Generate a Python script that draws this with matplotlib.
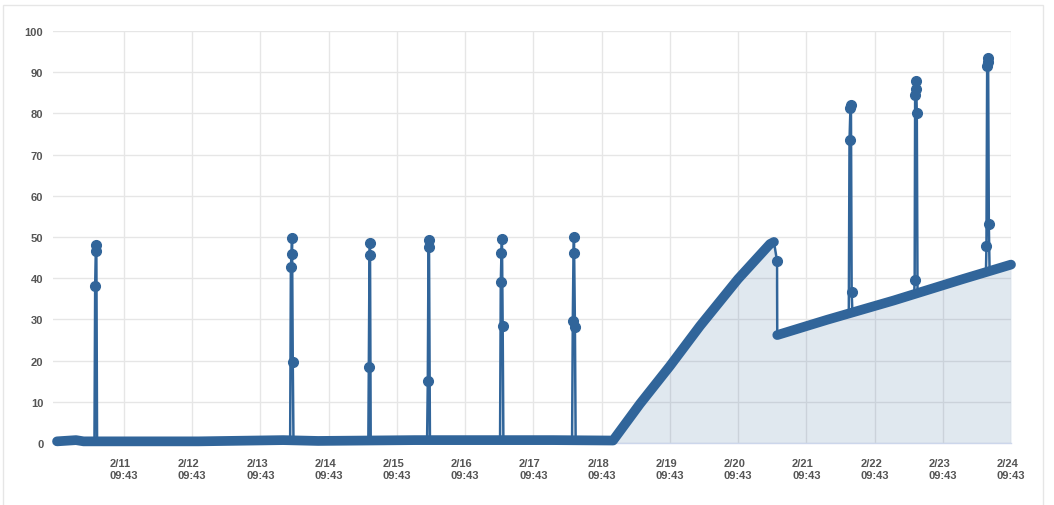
import matplotlib
matplotlib.use("Agg")
import matplotlib.pyplot as plt
from matplotlib.patches import Rectangle
import pandas as pd

YEAR = "2016-"
LINE = "#31659a"

# slow trend (drawn as the thick band)
trend_a_times = ["02-10 10:10", "02-10 16:50", "02-10 19:30", "02-11 12:00", "02-12 12:00",
                 "02-13 17:40", "02-14 06:00", "02-15 16:00", "02-16 15:00", "02-17 16:40",
                 "02-18 13:44", "02-18 23:13", "02-19 09:46", "02-19 20:19", "02-20 09:42",
                 "02-20 20:57", "02-20 22:20"]
trend_a_values = [0.4, 0.7, 0.4, 0.4, 0.4, 0.7, 0.5, 0.7, 0.7, 0.7, 0.6,
                  9.5, 18.7, 28.4, 39.8, 48.3, 48.8]

trend_b_times = ["02-20 23:30", "02-21 17:00", "02-22 16:30", "02-23 16:50", "02-24 09:43"]
trend_b_values = [26.2, 29.9, 34.6, 39.8, 43.3]

# short excursions (thin lines with dots)
drop_times = ["02-20 22:20", "02-20 23:25", "02-20 23:30"]
drop_values = [48.8, 44.2, 26.2]

spike_times = [
    ["02-10 23:20", "02-10 23:35", "02-10 23:50", "02-11 00:00", "02-11 00:15"],
    ["02-13 20:10", "02-13 20:25", "02-13 20:40", "02-13 20:50", "02-13 21:05", "02-13 21:20"],
    ["02-14 23:40", "02-14 23:50", "02-15 00:05", "02-15 00:15", "02-15 00:30"],
    ["02-15 20:20", "02-15 20:35", "02-15 20:50", "02-15 21:00", "02-15 21:20"],
    ["02-16 22:00", "02-16 22:15", "02-16 22:30", "02-16 22:40", "02-16 22:55", "02-16 23:10"],
    ["02-17 23:20", "02-17 23:35", "02-17 23:50", "02-18 00:00", "02-18 00:20", "02-18 00:35"],
    ["02-22 00:40", "02-22 00:55", "02-22 01:15", "02-22 01:25", "02-22 01:40", "02-22 01:55"],
    ["02-22 23:40", "02-22 23:50", "02-23 00:00", "02-23 00:10", "02-23 00:20", "02-23 00:35", "02-23 00:50"],
    ["02-24 00:55", "02-24 01:05", "02-24 01:20", "02-24 01:30", "02-24 01:40", "02-24 01:55", "02-24 02:10"],
]
spike_values = [
    [0.5, 38.1, 48.0, 46.6, 0.5],
    [0.6, 42.7, 45.9, 49.8, 19.7, 0.6],
    [0.6, 18.4, 45.6, 48.5, 0.6],
    [0.6, 15.1, 47.6, 49.3, 0.6],
    [0.6, 39.0, 46.2, 49.5, 28.3, 0.6],
    [0.6, 29.6, 46.1, 50.0, 28.1, 0.6],
    [31.7, 73.5, 81.4, 82.0, 36.6, 32.0],
    [36.0, 39.6, 84.5, 86.0, 87.9, 80.1, 37.0],
    [42.0, 47.8, 91.5, 92.5, 93.4, 53.2, 42.5],
]

tick_dates = ["02-11", "02-12", "02-13", "02-14", "02-15", "02-16", "02-17",
              "02-18", "02-19", "02-20", "02-21", "02-22", "02-23", "02-24"]
tick_time = "09:43"


def to_dt(lst):
    return pd.to_datetime([YEAR + s for s in lst])


fig = plt.figure(figsize=(10.54, 5.06), dpi=100)
ax = fig.add_axes([53 / 1054, 62 / 506, 958 / 1054, 412 / 506])

ta, tb = to_dt(trend_a_times), to_dt(trend_b_times)
all_t = list(ta) + list(tb)
all_v = trend_a_values + trend_b_values
ax.fill_between(all_t, all_v, 0, color="#336699", alpha=0.15, lw=0, zorder=1)

for ts, vs in zip(spike_times + [drop_times], spike_values + [drop_values]):
    t = to_dt(ts)
    ax.plot(t, vs, color=LINE, lw=1.8, zorder=3)
    ax.plot(t[1:-1], vs[1:-1], "o", color=LINE, ms=7, zorder=3)

for t, v in [(ta, trend_a_values), (tb, trend_b_values)]:
    ax.plot(t, v, color=LINE, lw=7, solid_capstyle="round",
            solid_joinstyle="round", zorder=4, clip_on=False)

ax.set_xlim(pd.Timestamp(YEAR + "02-10 08:45"), pd.Timestamp(YEAR + "02-24 09:43"))
ax.set_ylim(0, 100)
ax.set_yticks(range(0, 101, 10))

ticks = to_dt([d + " " + tick_time for d in tick_dates])
ax.set_xticks(ticks)
labels = ["%d/%d\n%s" % (t.month, t.day, tick_time) for t in ticks]
ax.set_xticklabels(labels, ha="center", multialignment="left")

for lab in ax.get_xticklabels() + ax.get_yticklabels():
    lab.set_fontfamily("Liberation Sans")
    lab.set_fontweight("bold")
    lab.set_fontsize(8)
    lab.set_color("#555555")

ax.tick_params(axis="x", length=0, pad=11)
ax.tick_params(axis="y", length=0, pad=7)
ax.set_axisbelow(True)
ax.grid(True, color="#e6e6e6", lw=1)
for s in ["top", "right", "left"]:
    ax.spines[s].set_visible(False)
ax.spines["bottom"].set_color("#ccd6eb")
ax.spines["bottom"].set_linewidth(1)

fig.patches.append(Rectangle((3 / 1054, -0.05), 1040 / 1054, 500 / 506 + 0.05,
                             transform=fig.transFigure, fill=False,
                             ec="#e6e6e6", lw=1))

fig.savefig("out.png", dpi=100)
